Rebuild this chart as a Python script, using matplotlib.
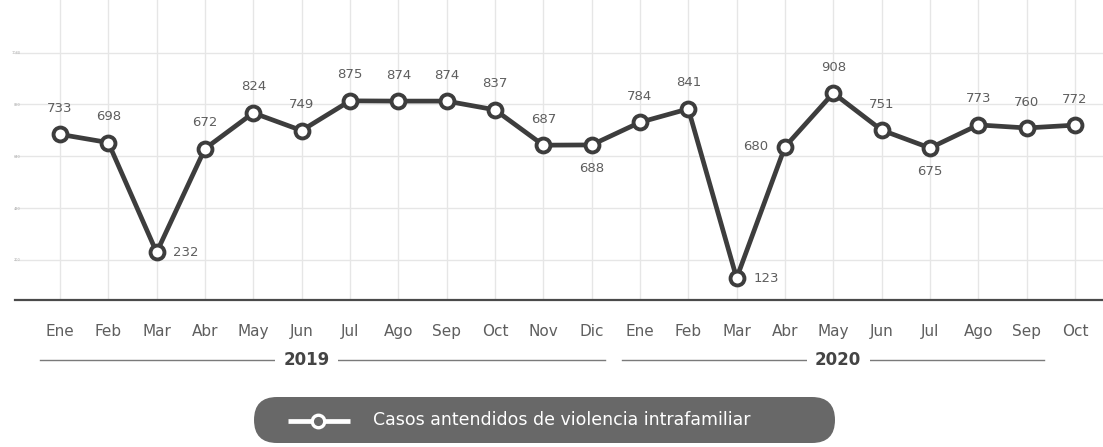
import matplotlib.pyplot as plt
import numpy as np
from matplotlib.patches import FancyBboxPatch
from matplotlib.transforms import blended_transform_factory

plt.rcParams["font.family"] = ["DejaVu Sans"]

# data
months = ["Ene", "Feb", "Mar", "Abr", "May", "Jun", "Jul", "Ago", "Sep", "Oct", "Nov", "Dic",
          "Ene", "Feb", "Mar", "Abr", "May", "Jun", "Jul", "Ago", "Sep", "Oct"]
casos = [733, 698, 232, 672, 824, 749, 875, 874, 874, 837, 687, 688,
         784, 841, 123, 680, 908, 751, 675, 773, 760, 772]
years = ["2019", "2020"]
y_ticks = [200, 420, 640, 860, 1080]

# label placement per point
label_pos = ["up"] * len(casos)
label_pos[2] = "right"
label_pos[11] = "down"
label_pos[14] = "right"
label_pos[15] = "left"
label_pos[18] = "down"

DARK = "#3d3d3d"
TXT = "#5e5e5e"
GRID = "#e6e6e6"

fig = plt.figure(figsize=(11.03, 4.47), dpi=100)
ax = fig.add_axes([15 / 1103, 1 - 300 / 447, 1 - 15 / 1103, 300 / 447])

x = np.arange(len(casos))
ax.plot(x, casos, color=DARK, lw=3.4, marker="o", ms=10, mfc="white",
        mec=DARK, mew=2.8, zorder=5, solid_joinstyle="round")

ax.set_xlim(-0.93, 21.58)
ax.set_ylim(30, 1303)
ax.set_xticks(x)
ax.set_xticklabels(months, fontsize=11, color=TXT)
ax.set_yticks(y_ticks)
ax.set_yticklabels([str(v) for v in y_ticks], fontsize=2.5, color="#aaaaaa")
ax.tick_params(axis="x", length=0, pad=17)
ax.tick_params(axis="y", length=0, pad=-4)
ax.grid(True, color=GRID, lw=1.0)
for s in ["top", "right", "left"]:
    ax.spines[s].set_visible(False)
ax.spines["bottom"].set_color("#4a4a4a")
ax.spines["bottom"].set_linewidth(1.6)

offsets = {"up": (0, 14, "center", "bottom"), "down": (0, -12, "center", "top"),
           "right": (12, 0, "left", "center"), "left": (-12, 0, "right", "center")}
for xi, v, p in zip(x, casos, label_pos):
    dx, dy, ha, va = offsets[p]
    ax.annotate(f"{v}", (xi, v), xytext=(dx, dy), textcoords="offset points",
                ha=ha, va=va, fontsize=9.5, color=TXT)

# year brackets below months
tr = blended_transform_factory(ax.transData, fig.transFigure)
y_year = 1 - 360 / 447
year_spans = [(-0.41, 11.28), (11.62, 20.35)]
year_centers = [5.1, 16.1]
for yr, (x0, x1), xc in zip(years, year_spans, year_centers):
    ax.plot([x0, x1], [y_year, y_year], transform=tr, color="#7a7a7a", lw=1.0,
            clip_on=False)
    ax.text(xc, y_year, yr, transform=tr, ha="center", va="center",
            fontsize=12, fontweight="bold", color="#444444",
            bbox=dict(facecolor="white", edgecolor="none", pad=6))

# legend pill
ov = fig.add_axes([0, 0, 1, 1], zorder=-1)
ov.set_xlim(0, 1103)
ov.set_ylim(447, 0)
ov.axis("off")
LEG = "#686868"
ov.add_patch(FancyBboxPatch((254, 397), 581, 46,
                            boxstyle="round,pad=0,rounding_size=23",
                            facecolor=LEG, edgecolor="none"))
ov.plot([288, 350], [421, 421], color="white", lw=3.4, solid_capstyle="butt")
ov.plot([318], [421], marker="o", ms=9, mfc=LEG, mec="white", mew=2.4)
ov.text(373, 420, "Casos antendidos de violencia intrafamiliar", color="white",
        fontsize=12.5, ha="left", va="center")

fig.savefig("out.png", dpi=100)
